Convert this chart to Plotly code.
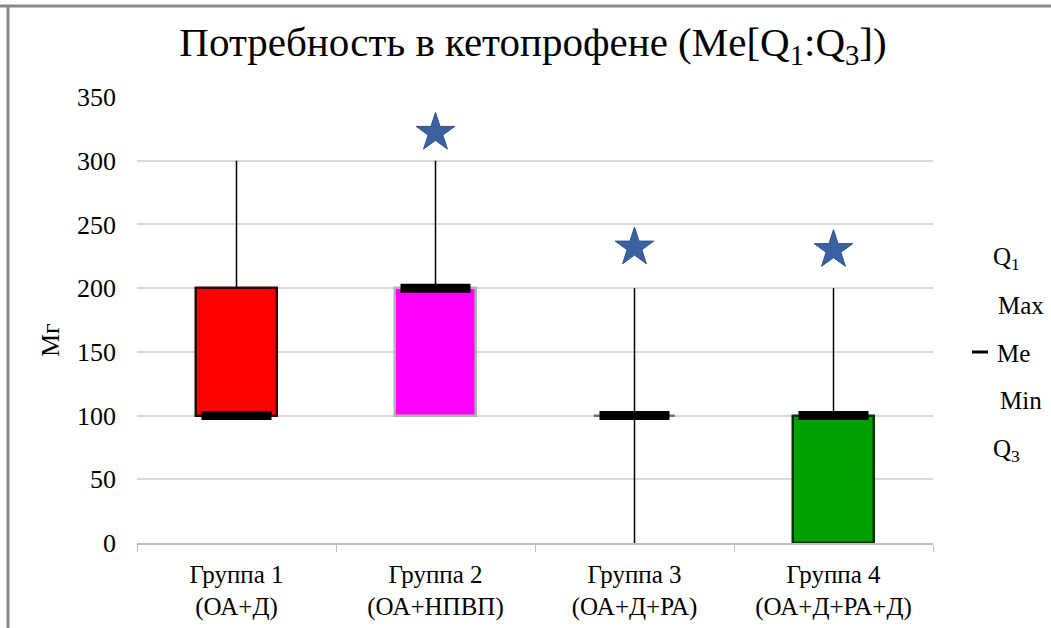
import plotly.graph_objects as go

# Ketoprofen requirement per group
groups = ["Группа 1<br>(ОА+Д)", "Группа 2<br>(ОА+НПВП)", "Группа 3<br>(ОА+Д+РА)", "Группа 4<br>(ОА+Д+РА+Д)"]
q_low = [100, 100, 100, 0]
q_high = [200, 200, 100, 100]
medians = [100, 200, 100, 100]
mins = [100, 100, 0, 0]
maxs = [300, 300, 200, 200]
star_groups = [groups[1], groups[2], groups[3]]
star_values = [322, 232, 230]

box_fill = ["#ff0000", "#ff00ff", "#808080", "#00a000"]
box_edge = ["#3a0000", "#a8b8a8", "#707070", "#003300"]

SERIF = "Liberation Serif"

fig = go.Figure()

# interquartile boxes
fig.add_trace(go.Bar(x=groups, y=[h - l for h, l in zip(q_high, q_low)], base=q_low,
                     width=0.41,
                     marker=dict(color=box_fill, line=dict(color=box_edge, width=2.5)),
                     showlegend=False))

# whiskers: min -> lower quartile and upper quartile -> max
wx, wy = [], []
for g, lo, ql, qh, hi in zip(groups, mins, q_low, q_high, maxs):
    if ql > lo:
        wx += [g, g, None]
        wy += [lo, ql, None]
    if hi > qh:
        wx += [g, g, None]
        wy += [qh, hi, None]
fig.add_trace(go.Scatter(x=wx, y=wy, mode="lines",
                         line=dict(color="#000000", width=1.5),
                         hoverinfo="skip", showlegend=False, cliponaxis=False))

# medians
fig.add_trace(go.Scatter(x=groups, y=medians, mode="markers",
                         marker=dict(symbol="line-ew", size=50,
                                     line=dict(color="#000000", width=9)),
                         showlegend=False, cliponaxis=False))

# significance stars
fig.add_trace(go.Scatter(x=star_groups, y=star_values, mode="markers",
                         marker=dict(symbol="star", size=29, color="#3b62a0",
                                     line=dict(color="#2f5288", width=1)),
                         showlegend=False, cliponaxis=False))


def px_x(p):
    return (p - 137) / 796


def px_y(p):
    return (543 - p) / 446


# side labels
side = [("Q<sub>1</sub>", 1007, 258), ("Max", 1021, 305), ("Min", 1021, 400), ("Q<sub>3</sub>", 1007, 450)]
annotations = []
for t, x, y in side:
    annotations.append(dict(text=t, x=px_x(x), y=px_y(y), xref="paper", yref="paper",
                            showarrow=False, xanchor="center", yanchor="middle",
                            font=dict(family=SERIF, size=25, color="#000000")))
annotations.append(dict(text="Me", x=px_x(995), y=px_y(353), xref="paper", yref="paper",
                        showarrow=False, xanchor="left", yanchor="middle",
                        font=dict(family=SERIF, size=25, color="#000000")))
annotations.append(dict(text="Мг", x=px_x(50), y=px_y(340), xref="paper", yref="paper",
                        showarrow=False, textangle=-90, xanchor="center", yanchor="middle",
                        font=dict(family=SERIF, size=26, color="#000000")))

shapes = [
    dict(type="line", xref="paper", yref="paper", x0=px_x(972), x1=px_x(988),
         y0=px_y(352), y1=px_y(352), line=dict(color="#000000", width=3)),
    # frame
    dict(type="line", xref="paper", yref="paper", x0=px_x(0), x1=px_x(1051),
         y0=px_y(6), y1=px_y(6), line=dict(color="#8a8a8a", width=3)),
    dict(type="line", xref="paper", yref="paper", x0=px_x(8), x1=px_x(8),
         y0=px_y(5), y1=px_y(628), line=dict(color="#8a8a8a", width=3)),
]

fig.update_layout(
    width=1051, height=628,
    margin=dict(l=137, r=118, t=97, b=85, autoexpand=False),
    paper_bgcolor="#ffffff", plot_bgcolor="#ffffff",
    title=dict(text="Потребность в кетопрофене (Me[Q<sub>1</sub>:Q<sub>3</sub>])",
               x=px_x(533), xref="paper", xanchor="center",
               y=1 - 42 / 628, yanchor="middle",
               font=dict(family=SERIF, size=41, color="#000000")),
    font=dict(family=SERIF, color="#000000"),
    bargap=0,
    annotations=annotations,
    shapes=shapes,
)
fig.update_xaxes(type="category", tickson="boundaries", ticks="outside", ticklen=7,
                 tickcolor="#bfbfbf", showline=True, linecolor="#bfbfbf", linewidth=1.5,
                 showgrid=False, ticklabelstandoff=8, automargin=False,
                 tickfont=dict(family=SERIF, size=25, color="#000000"))
fig.update_yaxes(range=[0, 350], tickvals=[0, 50, 100, 150, 200, 250, 300, 350],
                 showgrid=True, gridcolor="#d9d9d9", gridwidth=1.5, zeroline=False,
                 ticks="", ticklabelstandoff=20, automargin=False,
                 tickfont=dict(family=SERIF, size=26, color="#000000"))

fig.write_html("out.html")
